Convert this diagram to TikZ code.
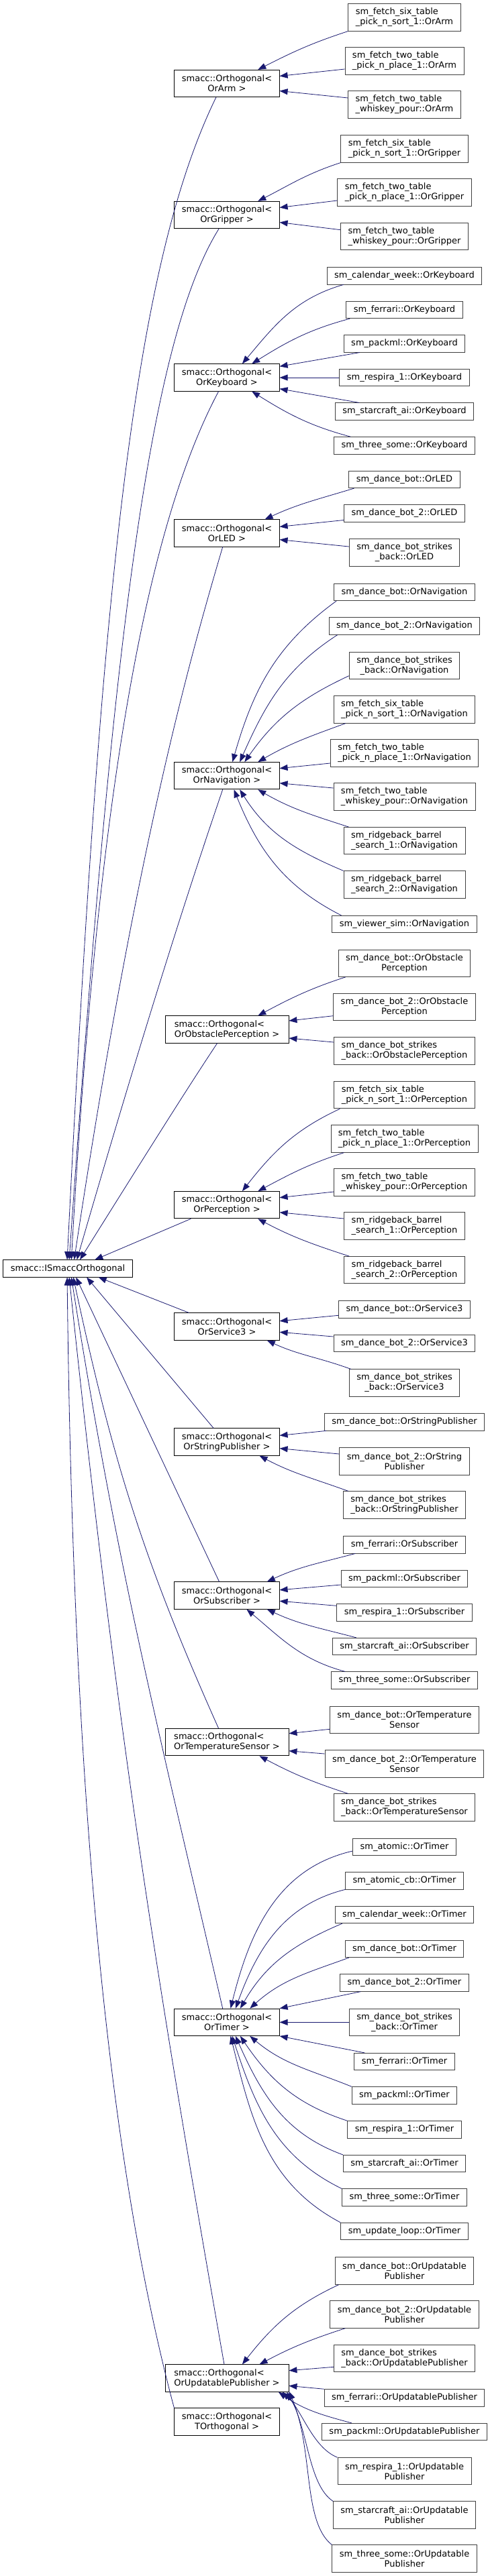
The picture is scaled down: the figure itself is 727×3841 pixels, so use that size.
\documentclass[tikz,border=0pt]{standalone}
\usepackage{fontspec}
\newfontfamily\dejavu{DejaVu Sans}
\usepackage{tikz}
\usetikzlibrary{arrows.meta}
\definecolor{edgeblue}{HTML}{191970}
\definecolor{boxline}{HTML}{404040}

\begin{document}
\begin{tikzpicture}[x=1pt, y=1pt,
  box/.style={draw=black, line width=0.9pt, fill=white, inner xsep=11pt, inner ysep=2pt,
              font=\dejavu\fontsize{13}{15}\selectfont, align=center, minimum height=25.3pt},
  mbox/.style={box, minimum width=156pt, minimum height=40.3pt},
  mboxw/.style={mbox, minimum width=184pt, align=left},
  rbox/.style={box, draw=boxline},
  rbox2/.style={rbox, minimum height=40.3pt},
  rboxl/.style={rbox2, align=left},
  arr/.style={{Triangle[length=12pt,width=9pt]}-, edgeblue, line width=0.8pt}]
  \useasboundingbox (0,0) rectangle (727,-3841);

  % base class
  \node[box] (iso) at (101,-1891.4) {smacc::ISmaccOrthogonal};

  % orthogonal templates
  \node[mbox] (arm) at (338,-124.5) {smacc::Orthogonal<\\OrArm >};
  \node[mbox] (grip) at (338,-320.5) {smacc::Orthogonal<\\OrGripper >};
  \node[mbox] (key) at (338,-563) {smacc::Orthogonal<\\OrKeyboard >};
  \node[mbox] (led) at (338,-795) {smacc::Orthogonal<\\OrLED >};
  \node[mbox] (nav) at (338,-1156.7) {smacc::Orthogonal<\\OrNavigation >};
  \node[mboxw] (obs) at (338,-1535) {smacc::Orthogonal<\\OrObstaclePerception >};
  \node[mbox] (per) at (338,-1796.7) {smacc::Orthogonal<\\OrPerception >};
  \node[mbox] (srv) at (338,-1978) {smacc::Orthogonal<\\OrService3 >};
  \node[mbox] (str) at (338,-2150) {smacc::Orthogonal<\\OrStringPublisher >};
  \node[mbox] (sub) at (338,-2379) {smacc::Orthogonal<\\OrSubscriber >};
  \node[mboxw] (tmp) at (338,-2597.7) {smacc::Orthogonal<\\OrTemperatureSensor >};
  \node[mbox] (tim) at (338,-3015.3) {smacc::Orthogonal<\\OrTimer >};
  \node[mboxw] (upd) at (338,-3546) {smacc::Orthogonal<\\OrUpdatablePublisher >};
  \node[mbox] (torth) at (338,-3611) {smacc::Orthogonal<\\TOrthogonal >};

  % state machine classes
  \node[rboxl] (arm1) at (602.5,-26) {sm\_fetch\_six\_table\\\_pick\_n\_sort\_1::OrArm};
  \node[rboxl] (arm2) at (602.5,-91) {sm\_fetch\_two\_table\\\_pick\_n\_place\_1::OrArm};
  \node[rboxl] (arm3) at (602.5,-156) {sm\_fetch\_two\_table\\\_whiskey\_pour::OrArm};
  \node[rboxl] (grip1) at (602.5,-222) {sm\_fetch\_six\_table\\\_pick\_n\_sort\_1::OrGripper};
  \node[rboxl] (grip2) at (602.5,-287) {sm\_fetch\_two\_table\\\_pick\_n\_place\_1::OrGripper};
  \node[rboxl] (grip3) at (602.5,-352.7) {sm\_fetch\_two\_table\\\_whiskey\_pour::OrGripper};
  \node[rbox] (key1) at (602.5,-411.3) {sm\_calendar\_week::OrKeyboard};
  \node[rbox] (key2) at (602.5,-462) {sm\_ferrari::OrKeyboard};
  \node[rbox] (key3) at (602.5,-512.5) {sm\_packml::OrKeyboard};
  \node[rbox] (key4) at (602.5,-563) {sm\_respira\_1::OrKeyboard};
  \node[rbox] (key5) at (602.5,-613.5) {sm\_starcraft\_ai::OrKeyboard};
  \node[rbox] (key6) at (602.5,-664.3) {sm\_three\_some::OrKeyboard};
  \node[rbox] (led1) at (602.5,-715) {sm\_dance\_bot::OrLED};
  \node[rbox] (led2) at (602.5,-765.5) {sm\_dance\_bot\_2::OrLED};
  \node[rbox2] (led3) at (602.5,-824) {sm\_dance\_bot\_strikes\\\_back::OrLED};
  \node[rbox] (nav1) at (602.5,-883) {sm\_dance\_bot::OrNavigation};
  \node[rbox] (nav2) at (602.5,-933.5) {sm\_dance\_bot\_2::OrNavigation};
  \node[rbox2] (nav3) at (602.5,-992.7) {sm\_dance\_bot\_strikes\\\_back::OrNavigation};
  \node[rboxl] (nav4) at (602.5,-1058) {sm\_fetch\_six\_table\\\_pick\_n\_sort\_1::OrNavigation};
  \node[rboxl] (nav5) at (602.5,-1123) {sm\_fetch\_two\_table\\\_pick\_n\_place\_1::OrNavigation};
  \node[rboxl] (nav6) at (602.5,-1188) {sm\_fetch\_two\_table\\\_whiskey\_pour::OrNavigation};
  \node[rboxl] (nav7) at (602.5,-1253.7) {sm\_ridgeback\_barrel\\\_search\_1::OrNavigation};
  \node[rboxl] (nav8) at (602.5,-1319) {sm\_ridgeback\_barrel\\\_search\_2::OrNavigation};
  \node[rbox] (nav9) at (602.5,-1378) {sm\_viewer\_sim::OrNavigation};
  \node[rbox2] (obs1) at (602.5,-1436.3) {sm\_dance\_bot::OrObstacle\\Perception};
  \node[rbox2] (obs2) at (602.5,-1501.7) {sm\_dance\_bot\_2::OrObstacle\\Perception};
  \node[rboxl] (obs3) at (602.5,-1567) {sm\_dance\_bot\_strikes\\\_back::OrObstaclePerception};
  \node[rboxl] (per1) at (602.5,-1632.7) {sm\_fetch\_six\_table\\\_pick\_n\_sort\_1::OrPerception};
  \node[rboxl] (per2) at (602.5,-1698) {sm\_fetch\_two\_table\\\_pick\_n\_place\_1::OrPerception};
  \node[rboxl] (per3) at (602.5,-1763) {sm\_fetch\_two\_table\\\_whiskey\_pour::OrPerception};
  \node[rboxl] (per4) at (602.5,-1828) {sm\_ridgeback\_barrel\\\_search\_1::OrPerception};
  \node[rboxl] (per5) at (602.5,-1893.7) {sm\_ridgeback\_barrel\\\_search\_2::OrPerception};
  \node[rbox] (srv1) at (602.5,-1952.3) {sm\_dance\_bot::OrService3};
  \node[rbox] (srv2) at (602.5,-2003) {sm\_dance\_bot\_2::OrService3};
  \node[rbox2] (srv3) at (602.5,-2062) {sm\_dance\_bot\_strikes\\\_back::OrService3};
  \node[rbox] (str1) at (602.5,-2120.3) {sm\_dance\_bot::OrStringPublisher};
  \node[rbox2] (str2) at (602.5,-2179) {sm\_dance\_bot\_2::OrString\\Publisher};
  \node[rboxl] (str3) at (602.5,-2244) {sm\_dance\_bot\_strikes\\\_back::OrStringPublisher};
  \node[rbox] (sub1) at (602.5,-2303.3) {sm\_ferrari::OrSubscriber};
  \node[rbox] (sub2) at (602.5,-2354) {sm\_packml::OrSubscriber};
  \node[rbox] (sub3) at (602.5,-2404.3) {sm\_respira\_1::OrSubscriber};
  \node[rbox] (sub4) at (602.5,-2455) {sm\_starcraft\_ai::OrSubscriber};
  \node[rbox] (sub5) at (602.5,-2505.5) {sm\_three\_some::OrSubscriber};
  \node[rbox2] (tmp1) at (602.5,-2564.3) {sm\_dance\_bot::OrTemperature\\Sensor};
  \node[rbox2] (tmp2) at (602.5,-2630) {sm\_dance\_bot\_2::OrTemperature\\Sensor};
  \node[rboxl] (tmp3) at (602.5,-2695) {sm\_dance\_bot\_strikes\\\_back::OrTemperatureSensor};
  \node[rbox] (tim1) at (602.5,-2754) {sm\_atomic::OrTimer};
  \node[rbox] (tim2) at (602.5,-2804.3) {sm\_atomic\_cb::OrTimer};
  \node[rbox] (tim3) at (602.5,-2855) {sm\_calendar\_week::OrTimer};
  \node[rbox] (tim4) at (602.5,-2906) {sm\_dance\_bot::OrTimer};
  \node[rbox] (tim5) at (602.5,-2956.5) {sm\_dance\_bot\_2::OrTimer};
  \node[rbox2] (tim6) at (602.5,-3015.3) {sm\_dance\_bot\_strikes\\\_back::OrTimer};
  \node[rbox] (tim7) at (602.5,-3074) {sm\_ferrari::OrTimer};
  \node[rbox] (tim8) at (602.5,-3124.3) {sm\_packml::OrTimer};
  \node[rbox] (tim9) at (602.5,-3175.3) {sm\_respira\_1::OrTimer};
  \node[rbox] (tim10) at (602.5,-3226) {sm\_starcraft\_ai::OrTimer};
  \node[rbox] (tim11) at (602.5,-3276.5) {sm\_three\_some::OrTimer};
  \node[rbox] (tim12) at (602.5,-3327) {sm\_update\_loop::OrTimer};
  \node[rbox2] (upd1) at (602.5,-3386) {sm\_dance\_bot::OrUpdatable\\Publisher};
  \node[rbox2] (upd2) at (602.5,-3451) {sm\_dance\_bot\_2::OrUpdatable\\Publisher};
  \node[rboxl] (upd3) at (602.5,-3516.3) {sm\_dance\_bot\_strikes\\\_back::OrUpdatablePublisher};
  \node[rbox] (upd4) at (602.5,-3575.3) {sm\_ferrari::OrUpdatablePublisher};
  \node[rbox] (upd5) at (602.5,-3626) {sm\_packml::OrUpdatablePublisher};
  \node[rbox2] (upd6) at (602.5,-3684.7) {sm\_respira\_1::OrUpdatable\\Publisher};
  \node[rbox2] (upd7) at (602.5,-3750) {sm\_starcraft\_ai::OrUpdatable\\Publisher};
  \node[rbox2] (upd8) at (602.5,-3815) {sm\_three\_some::OrUpdatable\\Publisher};

  % templates -> base
  \draw[arr] (iso.94) .. controls +(50,1000) and +(-123,-252) .. (arm.-128);
  \draw[arr] (iso.81) .. controls +(63,900) and +(-106,-170) .. (grip.-120);
  \draw[arr] (iso.68) .. controls +(42,750) and +(-97,-182) .. (key.-121);
  \draw[arr] (iso.54) .. controls +(93,617) and +(-48,-163) .. (led.-107);
  \draw[arr] (iso.44) .. controls +(118,407) and +(-36,-106) .. (nav.-107);
  \draw[arr] (iso.36) .. controls +(100,160) and +(-40,-60) .. (obs.-125);
  \draw[arr] (iso.18) -- (per.-159);
  \draw[arr] (iso.-16) -- (srv.160);
  \draw[arr] (iso.-25) -- (str.134);
  \draw[arr] (iso.-47) -- (sub.119);
  \draw[arr] (iso.-58) .. controls +(58,-271) and +(-113,253) .. (tmp.121);
  \draw[arr] (iso.-68) .. controls +(68,-431) and +(-98,425) .. (tim.107);
  \draw[arr] (iso.-81) .. controls +(67,-637) and +(-111,631) .. (upd.101);
  \draw[arr] (iso.-94) .. controls +(10,-900) and +(-80,300) .. (torth.north west);

  % OrArm
  \draw[arr] (arm.24) to[out=27,in=198] (arm1.south west);
  \draw[arr] (arm.8) -- ([yshift=-12pt]arm2.west);
  \draw[arr] (arm.-8) -- ([yshift=10pt]arm3.west);
  % OrGripper
  \draw[arr] (grip.24) to[out=27,in=198] (grip1.south west);
  \draw[arr] (grip.8) -- ([yshift=-12pt]grip2.west);
  \draw[arr] (grip.-8) -- ([yshift=10pt]grip3.west);
  % OrKeyboard
  \draw[arr] (key.42) to[out=50,in=196] ([xshift=25pt]key1.south west);
  \draw[arr] (key.29) to[out=32,in=195] ([xshift=6pt]key2.south west);
  \draw[arr] (key.12) -- ([xshift=24pt]key3.south west);
  \draw[arr] (key.east) -- (key4.west);
  \draw[arr] (key.-12) -- ([xshift=36pt]key5.north west);
  \draw[arr] (key.-29) to[out=-32,in=165] ([xshift=25pt]key6.north west);
  % OrLED
  \draw[arr] (led.20) to[out=25,in=197] ([xshift=8pt]led1.south west);
  \draw[arr] (led.7) -- ([yshift=-10pt]led2.west);
  \draw[arr] (led.-7) -- ([yshift=9pt]led3.west);
  % OrNavigation
  \draw[arr] (nav.68) to[out=74,in=216] ([xshift=4pt]nav1.south west);
  \draw[arr] (nav.47) to[out=66,in=213] ([xshift=13pt]nav2.south west);
  \draw[arr] (nav.38) to[out=55,in=205] ([yshift=-15pt]nav3.west);
  \draw[arr] (nav.24) to[out=30,in=200] ([xshift=18pt]nav4.south west);
  \draw[arr] (nav.8) -- ([yshift=-15pt]nav5.west);
  \draw[arr] (nav.-8) -- ([yshift=13pt]nav6.west);
  \draw[arr] (nav.-24) to[out=-30,in=162] ([xshift=8pt]nav7.north west);
  \draw[arr] (nav.-47) to[out=-58,in=157] (nav8.north west);
  \draw[arr] (nav.-63) to[out=-68,in=153] ([xshift=14pt]nav9.north west);
  % OrObstaclePerception
  \draw[arr] (obs.24) to[out=28,in=198] ([xshift=11pt]obs1.south west);
  \draw[arr] (obs.8) -- ([yshift=-13pt]obs2.west);
  \draw[arr] (obs.-8) -- ([yshift=13pt]obs3.west);
  % OrPerception
  \draw[arr] (per.42) to[out=52,in=205] ([xshift=9pt]per1.south west);
  \draw[arr] (per.24) to[out=28,in=198] ([xshift=20pt]per2.south west);
  \draw[arr] (per.8) -- ([yshift=-14pt]per3.west);
  \draw[arr] (per.-8) -- ([yshift=11pt]per4.west);
  \draw[arr] (per.-24) to[out=-28,in=162] ([xshift=8pt]per5.north west);
  % OrService3
  \draw[arr] (srv.6) -- ([yshift=-9pt]srv1.west);
  \draw[arr] (srv.-6) -- ([yshift=10pt]srv2.west);
  \draw[arr] (srv.-19) to[out=-25,in=160] ([xshift=3pt]srv3.north west);
  % OrStringPublisher
  \draw[arr] (str.7) -- ([xshift=3pt]str1.south west);
  \draw[arr] (str.-7) -- ([yshift=11pt]str2.west);
  \draw[arr] (str.-23) to[out=-28,in=160] ([xshift=8pt]str3.north west);
  % OrSubscriber
  \draw[arr] (sub.19) to[out=25,in=195] ([xshift=18pt]sub1.south west);
  \draw[arr] (sub.6) -- ([yshift=-9pt]sub2.west);
  \draw[arr] (sub.-6) -- ([yshift=10pt]sub3.west);
  \draw[arr] (sub.-19) to[out=-25,in=165] ([xshift=36pt]sub4.north west);
  \draw[arr] (sub.-35) to[out=-40,in=165] ([xshift=21pt]sub5.north west);
  % OrTemperatureSensor
  \draw[arr] (tmp.8) -- ([yshift=-14pt]tmp1.west);
  \draw[arr] (tmp.-8) -- ([yshift=15pt]tmp2.west);
  \draw[arr] (tmp.-23) to[out=-28,in=162] ([xshift=22pt]tmp3.north west);
  % OrTimer
  \draw[arr] (tim.75) to[out=76,in=193] ([yshift=-6pt]tim1.west);
  \draw[arr] (tim.58) to[out=70,in=194] (tim2.south west);
  \draw[arr] (tim.46) to[out=60,in=203] ([xshift=11pt]tim3.south west);
  \draw[arr] (tim.31) to[out=42,in=200] ([xshift=6pt]tim4.south west);
  \draw[arr] (tim.north east) -- ([xshift=31pt]tim5.south west);
  \draw[arr] (tim.east) -- (tim6.west);
  \draw[arr] (tim.south east) -- ([xshift=16pt]tim7.north west);
  \draw[arr] (tim.-31) to[out=-40,in=158] (tim8.north west);
  \draw[arr] (tim.-46) to[out=-56,in=162] (tim9.north west);
  \draw[arr] (tim.-58) to[out=-66,in=160] (tim10.north west);
  \draw[arr] (tim.-69) to[out=-72,in=154] (tim11.north west);
  \draw[arr] (tim.-75) to[out=-76,in=152] (tim12.north west);
  % OrUpdatablePublisher
  \draw[arr] (upd.42) to[out=52,in=205] ([xshift=6pt]upd1.south west);
  \draw[arr] (upd.23) to[out=28,in=198] ([xshift=23pt]upd2.south west);
  \draw[arr] (upd.7) -- ([yshift=-13pt]upd3.west);
  \draw[arr] (upd.-7) -- (upd4.north west);
  \draw[arr] (upd.-15) to[out=-35,in=165] ([xshift=45pt]upd5.north west);
  \draw[arr] (upd.-14) .. controls +(29,-27) and +(-37,15) .. (upd6.north west);
  \draw[arr] (upd.-13) .. controls +(32,-56) and +(-37,25) .. (upd7.north west);
  \draw[arr] (upd.-12.5) .. controls +(37,-86) and +(-44,35) .. (upd8.north west);
\end{tikzpicture}
\end{document}
